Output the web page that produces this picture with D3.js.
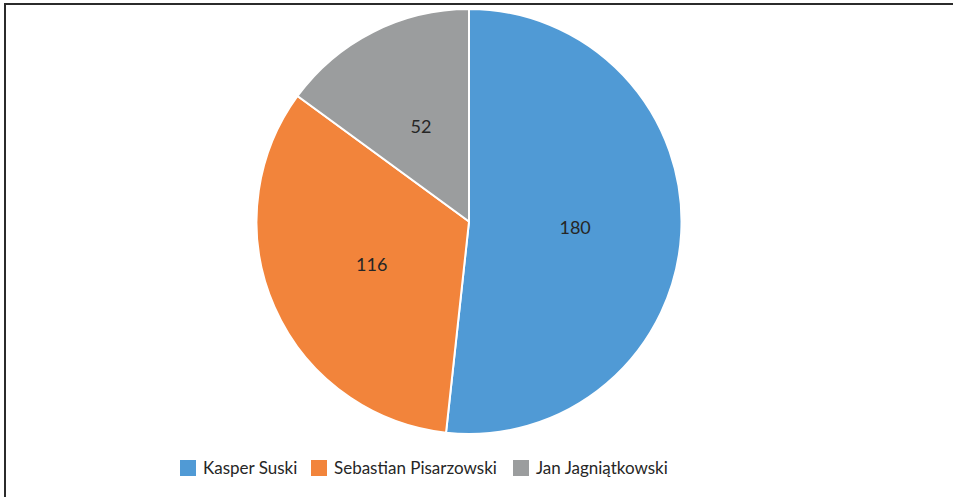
<!DOCTYPE html>
<html>
<head>
<meta charset="utf-8">
<script src="https://d3js.org/d3.v7.min.js"></script>
<style>
body { margin: 0; background: white; }
svg { display: block; }
</style>
</head>
<body>
<script>
var names = ["Kasper Suski", "Sebastian Pisarzowski", "Jan Jagniątkowski"];
var values = [180, 116, 52];
var colors = ["#509AD5", "#F2843B", "#9B9D9E"];

var width = 953, height = 497;
var cx = 469, cy = 221.5, radius = 212.5;

var svg = d3.select("body").append("svg")
    .attr("width", width)
    .attr("height", height);

// frame (only top and left edges show)
svg.append("rect")
    .attr("x", 5).attr("y", 4)
    .attr("width", 1000).attr("height", 600)
    .style("fill", "none")
    .style("stroke", "#2b2b2b")
    .style("stroke-width", 2);

var pie = d3.pie().sort(null).value(d => d.v);
var arc = d3.arc().innerRadius(0).outerRadius(radius);
var labelArc = d3.arc().innerRadius(radius * 0.5).outerRadius(radius * 0.5);

var data = values.map((v, i) => ({ v: v, name: names[i], color: colors[i] }));

var g = svg.append("g").attr("transform", "translate(" + cx + "," + cy + ")");

g.selectAll("path")
    .data(pie(data))
    .enter().append("path")
    .attr("d", arc)
    .style("fill", d => d.data.color)
    .style("stroke", "white")
    .style("stroke-width", 2);

g.selectAll("text")
    .data(pie(data))
    .enter().append("text")
    .attr("transform", d => "translate(" + labelArc.centroid(d) + ")")
    .attr("text-anchor", "middle")
    .attr("dy", "0.35em")
    .style("font-family", "Lato, sans-serif")
    .style("font-size", "18px")
    .style("fill", "#262626")
    .text(d => d.data.v);

// legend
var legendX = [180, 311, 513];
var legend = svg.append("g");
data.forEach(function(d, i) {
    legend.append("rect")
        .attr("x", legendX[i]).attr("y", 460)
        .attr("width", 16).attr("height", 16)
        .style("fill", d.color);
    legend.append("text")
        .attr("x", legendX[i] + 23).attr("y", 474)
        .style("font-family", "Lato, sans-serif")
        .style("font-size", "17px")
        .style("fill", "#262626")
        .text(d.name);
});
</script>
</body>
</html>
